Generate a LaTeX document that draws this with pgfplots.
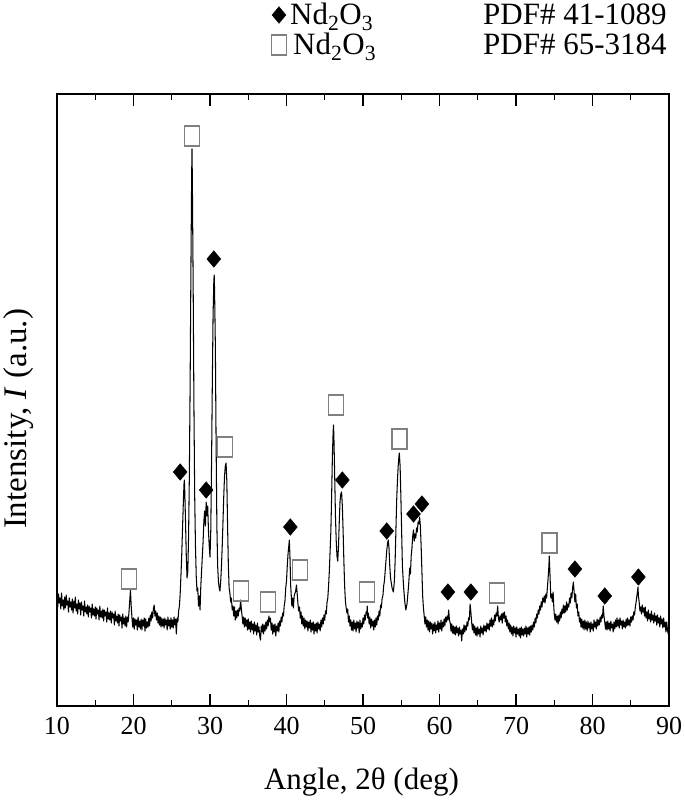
\documentclass[border=0pt]{standalone}
\usepackage{fontspec}
\setmainfont{Liberation Serif}
\usepackage{pgfplots}
\pgfplotsset{compat=1.18}
\begin{document}
\begin{tikzpicture}
\begin{axis}[
  scale only axis, width=612pt, height=612pt,
  at={(57pt,101pt)}, anchor=south west,
  xmin=10, xmax=90, ymin=0, ymax=612,
  xtick={10,20,...,90}, minor x tick num=1,
  ytick=\empty,
  tick align=inside,
  major tick length=12pt, minor tick length=6pt,
  every tick/.style={black, line width=1.3pt},
  axis line style={line width=1.6pt},
  /pgf/number format/assume math mode=true,
  xticklabel style={font=\fontsize{26}{26}\selectfont, yshift=-8pt},
  clip=false,
]
\addplot[black, line width=1.05pt, mark=none, line join=round] coordinates {
(10.0,110)(10.1,99)(10.2,112)(10.3,103)(10.4,108)(10.5,97)(10.6,113)(10.7,100)(10.8,106)(10.9,96)
(11.0,109)(11.1,98)(11.2,111)(11.3,101)(11.4,105)(11.5,94)(11.6,108)(11.7,99)(11.8,104)(11.9,96)
(12.0,107)(12.1,93)(12.2,105)(12.3,98)(12.4,109)(12.5,95)(12.6,102)(12.7,92)(12.8,106)(12.9,97)
(13.0,103)(13.1,91)(13.2,104)(13.3,96)(13.4,100)(13.5,90)(13.6,105)(13.7,94)(13.8,99)(13.9,92)
(14.0,101)(14.1,89)(14.2,100)(14.3,94)(14.4,98)(14.5,88)(14.6,102)(14.7,91)(14.8,97)(14.9,90)
(15.0,99)(15.1,87)(15.2,98)(15.3,92)(15.4,96)(15.5,86)(15.6,100)(15.7,89)(15.8,95)(15.9,88)
(16.0,97)(16.1,85)(16.2,96)(16.3,90)(16.4,94)(16.5,84)(16.6,98)(16.7,87)(16.8,93)(16.9,86)
(17.0,95)(17.1,83)(17.2,94)(17.3,88)(17.4,92)(17.5,81)(17.6,95)(17.7,85)(17.8,90)(17.9,83)
(18.0,92)(18.1,80)(18.2,91)(18.3,85)(18.4,89)(18.5,78)(18.6,92)(18.7,82)(18.8,88)(18.9,80)
(19.0,90)(19.1,79)(19.2,89)(19.3,84)(19.4,93)(19.5,104)(19.6,116)(19.7,100)(19.8,88)(19.9,79)
(20.0,88)(20.1,77)(20.2,87)(20.3,81)(20.4,86)(20.5,76)(20.6,89)(20.7,79)(20.8,85)(20.9,77)
(21.0,87)(21.1,76)(21.2,86)(21.3,80)(21.4,88)(21.5,75)(21.6,87)(21.7,78)(21.8,84)(21.9,79)
(22.0,88)(22.1,80)(22.2,91)(22.3,85)(22.4,94)(22.5,88)(22.6,97)(22.7,101)(22.8,90)(22.9,95)
(23.0,86)(23.1,93)(23.2,83)(23.3,90)(23.4,81)(23.5,89)(23.6,79)(23.7,88)(23.8,80)(23.9,87)
(24.0,78)(24.1,88)(24.2,81)(24.3,86)(24.4,76)(24.5,89)(24.6,80)(24.7,86)(24.8,77)(24.9,88)
(25.0,79)(25.1,86)(25.2,78)(25.3,89)(25.4,81)(25.5,87)(25.6,72)(25.7,88)(25.8,84)(25.9,95)
(26.0,100)(26.1,112)(26.2,130)(26.3,150)(26.4,175)(26.5,200)(26.6,222)
(26.65,226)(26.7,215)(26.8,185)(26.9,150)(27.0,128)(27.1,135)(27.2,170)(27.3,230)(27.4,320)(27.5,430)
(27.6,530)(27.65,557)(27.7,520)(27.8,420)(27.9,300)(28.0,210)(28.1,160)(28.2,130)(28.3,115)(28.4,118)
(28.5,100)(28.6,110)(28.7,96)(28.8,120)(28.9,135)(29.0,150)(29.1,165)(29.2,185)(29.3,195)(29.4,180)
(29.5,204)(29.6,190)(29.7,200)(29.8,175)(29.9,160)(30.0,149)(30.1,175)(30.2,240)(30.3,320)(30.4,390)
(30.5,425)(30.55,431)(30.6,415)(30.7,360)(30.8,260)(30.9,180)(31.0,140)(31.1,125)(31.2,118)(31.3,115)
(31.4,125)(31.5,140)(31.6,160)(31.7,185)(31.8,210)(31.9,230)(32.0,240)(32.1,243)(32.2,225)(32.3,180)
(32.4,140)(32.5,118)
(32.6,113)(32.7,104)(32.8,108)(32.9,96)(33.0,100)(33.1,90)(33.2,99)(33.3,86)(33.4,95)(33.5,88)
(33.6,96)(33.7,90)(33.8,98)(33.9,95)(34.0,106)(34.1,97)(34.2,90)(34.3,82)(34.4,89)(34.5,79)
(34.6,88)(34.7,80)(34.8,86)(34.9,76)(35.0,87)(35.1,77)(35.2,84)(35.3,74)(35.4,85)(35.5,76)
(35.6,82)(35.7,72)(35.8,84)(35.9,75)(36.0,81)(36.1,71)(36.2,83)(36.3,74)(36.4,79)(36.5,70)
(36.6,66)(36.7,80)(36.8,74)(36.9,82)(37.0,72)(37.1,81)(37.2,75)(37.3,84)(37.4,77)(37.5,86)
(37.6,80)(37.7,90)(37.8,84)(37.9,88)(38.0,76)(38.1,83)(38.2,72)(38.3,81)(38.4,74)(38.5,82)
(38.6,70)(38.7,80)(38.8,75)(38.9,83)(39.0,74)(39.1,85)(39.2,80)(39.3,89)(39.4,84)(39.5,93)
(39.6,90)(39.7,100)(39.8,105)(39.9,118)
(40.0,125)(40.1,140)(40.2,152)(40.3,160)(40.37,166)(40.45,150)(40.55,120)(40.7,100)(40.8,108)(40.9,98)
(41.0,110)(41.2,115)(41.3,121)(41.4,112)(41.5,102)
(41.6,95)(41.7,99)(41.8,88)(41.9,94)(42.0,82)(42.1,90)(42.2,80)(42.3,88)(42.4,77)(42.5,86)
(42.6,79)(42.7,85)(42.8,75)(42.9,84)(43.0,78)(43.1,86)(43.2,74)(43.3,83)(43.4,76)(43.5,84)
(43.6,72)(43.7,82)(43.8,75)(43.9,83)(44.0,73)(44.1,84)(44.2,77)(44.3,82)(44.4,75)(44.5,86)
(44.6,79)(44.7,88)(44.8,82)(44.9,91)(45.0,86)(45.1,95)(45.2,92)(45.3,104)(45.4,108)(45.5,120)
(45.6,135)(45.8,175)(45.9,210)(46.0,250)(46.1,275)
(46.15,281)(46.2,268)(46.3,230)(46.4,190)(46.5,165)(46.6,150)(46.7,145)(46.8,160)(46.9,185)(47.0,205)
(47.1,212)(47.2,214)(47.3,200)(47.4,175)(47.5,145)(47.6,120)(47.7,105)(47.8,98)
(47.9,93)(48.0,97)(48.1,84)(48.2,90)(48.3,80)(48.4,86)(48.5,76)(48.6,84)(48.7,75)(48.8,86)
(48.9,77)(49.0,83)(49.1,74)(49.2,85)(49.3,78)(49.4,84)(49.5,73)(49.6,86)(49.7,77)(49.8,83)
(49.9,79)(50.0,88)(50.1,82)(50.2,91)(50.3,86)(50.4,94)(50.5,92)(50.55,100)(50.6,88)(50.7,93)
(50.8,82)(50.9,89)(51.0,78)(51.1,87)(51.2,80)(51.3,85)(51.4,76)(51.5,86)(51.6,79)(51.7,88)
(51.8,81)(51.9,90)(52.0,86)(52.1,95)(52.2,90)(52.3,101)(52.4,98)(52.5,108)(52.6,110)(52.7,120)
(52.8,125)(53.0,145)(53.1,155)(53.2,162)(53.3,166)(53.4,158)
(53.5,140)(53.6,128)(53.8,118)(53.97,114)(54.1,125)(54.2,145)(54.3,175)(54.4,205)(54.5,225)(54.6,240)
(54.7,250)(54.75,253)(54.85,240)(54.95,210)(55.05,175)(55.15,140)(55.3,120)(55.45,105)(55.6,96)(55.75,102)
(55.9,115)(56.0,125)(56.1,138)(56.2,132)(56.3,150)(56.4,158)(56.5,170)(56.6,176)(56.7,165)(56.8,172)
(56.9,168)(57.0,178)(57.1,174)(57.2,184)(57.3,182)(57.4,189)(57.5,180)
(57.6,160)(57.7,135)(57.8,110)(57.9,98)
(58.0,90)(58.1,82)(58.2,89)(58.3,79)(58.4,86)(58.5,76)(58.6,85)(58.7,74)(58.8,84)(58.9,77)
(59.0,83)(59.1,72)(59.2,82)(59.3,75)(59.4,84)(59.5,73)(59.6,81)(59.7,76)(59.8,85)(59.9,74)
(60.0,83)(60.1,77)(60.2,86)(60.3,75)(60.4,84)(60.5,79)(60.6,87)(60.7,80)(60.8,89)(60.9,84)
(61.0,90)(61.1,86)(61.2,96)(61.3,86)(61.4,83)(61.5,75)(61.6,82)(61.7,73)(61.8,80)(61.9,72)
(62.0,79)(62.1,71)(62.2,80)(62.3,73)(62.4,78)(62.5,70)(62.6,79)(62.7,72)(62.8,76)(62.9,65)
(63.0,77)(63.1,72)(63.2,81)(63.3,74)(63.4,80)(63.5,76)(63.6,84)(63.7,80)(63.8,88)(63.9,86)
(64.0,102)(64.1,94)(64.2,84)(64.3,76)(64.4,82)(64.5,73)(64.6,80)(64.7,71)(64.8,78)(64.9,70)
(65.0,79)(65.1,72)(65.2,77)(65.3,69)(65.4,80)(65.5,73)(65.6,78)(65.7,71)(65.8,81)(65.9,75)
(66.0,80)(66.1,74)(66.2,83)(66.3,77)(66.4,82)(66.5,76)(66.6,86)(66.7,80)(66.8,88)(66.9,79)
(67.0,86)(67.1,81)(67.2,91)(67.3,85)(67.4,93)(67.5,90)(67.6,100)(67.7,88)(67.8,84)(67.9,90)
(68.0,86)(68.1,92)(68.2,83)(68.3,93)(68.4,88)(68.5,94)(68.6,84)(68.7,90)(68.8,80)(68.9,86)
(69.0,77)(69.1,83)(69.2,74)(69.3,81)(69.4,72)(69.5,79)(69.6,70)(69.7,80)(69.8,73)(69.9,78)
(70.0,69)(70.1,79)(70.2,72)(70.3,77)(70.4,70)(70.5,78)(70.6,68)(70.7,79)(70.8,71)(70.9,77)
(71.0,70)(71.1,78)(71.2,72)(71.3,80)(71.4,69)(71.5,78)(71.6,72)(71.7,79)(71.8,71)(71.9,80)
(72.0,74)(72.1,81)(72.2,76)(72.3,84)(72.4,79)(72.5,88)(72.6,83)(72.7,92)(72.8,88)(72.9,96)
(73.0,92)(73.1,100)(73.2,96)(73.3,104)(73.4,99)(73.5,108)(73.6,104)(73.7,110)(73.8,103)(73.9,112)
(74.0,108)(74.1,118)(74.2,128)(74.3,140)(74.35,150)(74.45,130)(74.55,108)(74.65,112)(74.75,104)(74.85,114)
(74.95,98)(75.0,92)(75.1,86)(75.2,92)(75.3,84)(75.4,90)(75.5,82)(75.6,91)(75.7,85)(75.8,94)
(75.9,88)(76.0,97)(76.1,92)(76.2,101)(76.3,93)(76.4,100)(76.5,94)(76.6,104)(76.7,96)(76.8,102)
(76.9,99)(77.0,108)(77.1,103)(77.2,113)(77.3,108)(77.4,118)(77.5,124)(77.6,114)(77.7,104)(77.8,112)
(77.9,98)(78.0,102)(78.1,90)(78.2,94)(78.3,84)(78.4,88)(78.5,79)(78.6,87)(78.7,78)(78.8,85)
(78.9,76)(79.0,86)(79.1,77)(79.2,84)(79.3,75)(79.4,85)(79.5,78)(79.6,83)(79.7,74)(79.8,84)
(79.9,77)(80.0,82)(80.1,75)(80.2,86)(80.3,79)(80.4,84)(80.5,77)(80.6,87)(80.7,80)(80.8,86)
(80.9,81)(81.0,89)(81.1,84)(81.2,91)(81.3,88)(81.4,100)(81.5,90)(81.6,84)(81.7,77)(81.8,84)
(81.9,76)(82.0,85)(82.1,77)(82.2,83)(82.3,75)(82.4,85)(82.5,78)(82.6,82)(82.7,74)(82.8,84)
(82.9,77)(83.0,86)(83.1,79)(83.2,88)(83.3,80)(83.4,86)(83.5,78)(83.6,88)(83.7,81)(83.8,85)
(83.9,77)(84.0,86)(84.1,79)(84.2,84)(84.3,78)(84.4,87)(84.5,80)(84.6,88)(84.7,81)(84.8,86)
(84.9,80)(85.0,89)(85.1,84)(85.2,90)(85.3,86)(85.4,94)(85.5,91)(85.6,99)(85.7,104)(85.8,110)
(85.9,116)(85.95,119)(86.0,110)(86.1,104)(86.2,95)(86.3,99)(86.4,92)(86.5,101)(86.6,94)(86.7,98)
(86.8,90)(86.9,99)(87.0,88)(87.1,94)(87.2,85)(87.3,96)(87.4,87)(87.5,92)(87.6,84)(87.7,95)
(87.8,86)(87.9,91)(88.0,83)(88.1,93)(88.2,85)(88.3,90)(88.4,81)(88.5,91)(88.6,83)(88.7,88)
(88.8,79)(88.9,90)(89.0,82)(89.1,87)(89.2,78)(89.3,88)(89.4,79)(89.5,84)(89.6,74)(89.7,84)
(89.8,76)(89.9,72)(90.0,80)
};
% open squares (PDF# 65-3184)
\addplot[only marks, mark=square, mark size=7.5pt,
  mark options={draw=black!50, fill=white, line width=1.4pt, yscale=1.33}] coordinates {
(19.4,127)(27.65,570)(31.96,259)(34.05,115)(37.6,104)(41.8,136)(46.5,301)(50.5,114)(54.77,267)(67.5,113)(74.4,163)
};
% filled diamonds (PDF# 41-1089)
\addplot[only marks, mark=diamond*, mark size=8.3pt,
  mark options={draw=black, fill=black, xscale=1.12}] coordinates {
(26.1,234)(29.5,216)(30.5,447)(40.5,179)(47.3,226)(53.1,175)(56.6,192)(57.7,202)(61.1,114)(64.1,114)(77.7,137)(81.6,110)(86.0,129)
};
% key markers above the axis
\addplot[only marks, mark=diamond*, mark size=8.3pt,
  mark options={draw=black, fill=black, xscale=1.12}] coordinates {(39.02,691)};
\addplot[only marks, mark=square, mark size=7.5pt,
  mark options={draw=black!50, fill=white, line width=1.4pt, yscale=1.33}] coordinates {(39.02,661)};
\node[anchor=base west, inner sep=0pt, font=\fontsize{31}{31}\selectfont] at (axis cs:40.46,681) {Nd\textsubscript{2}O\textsubscript{3}};
\node[anchor=base west, inner sep=0pt, font=\fontsize{31}{31}\selectfont] at (axis cs:40.85,651) {Nd\textsubscript{2}O\textsubscript{3}};
\node[anchor=base west, inner sep=0pt, font=\fontsize{31}{31}\selectfont] at (axis cs:65.69,681) {PDF\# 41-1089};
\node[anchor=base west, inner sep=0pt, font=\fontsize{31}{31}\selectfont] at (axis cs:65.69,651) {PDF\# 65-3184};
\node[anchor=base, inner sep=0pt, font=\fontsize{31}{31}\selectfont] at (axis cs:49.8,-83) {Angle, 2θ (deg)};
\node[rotate=90, anchor=base, inner sep=0pt, font=\fontsize{33}{33}\selectfont] at (axis cs:6.04,287) {Intensity, \textit{I} (a.u.)};
\end{axis}
\pgfresetboundingbox
\useasboundingbox (0,0) rectangle (685pt,807pt);
\end{tikzpicture}
\end{document}
